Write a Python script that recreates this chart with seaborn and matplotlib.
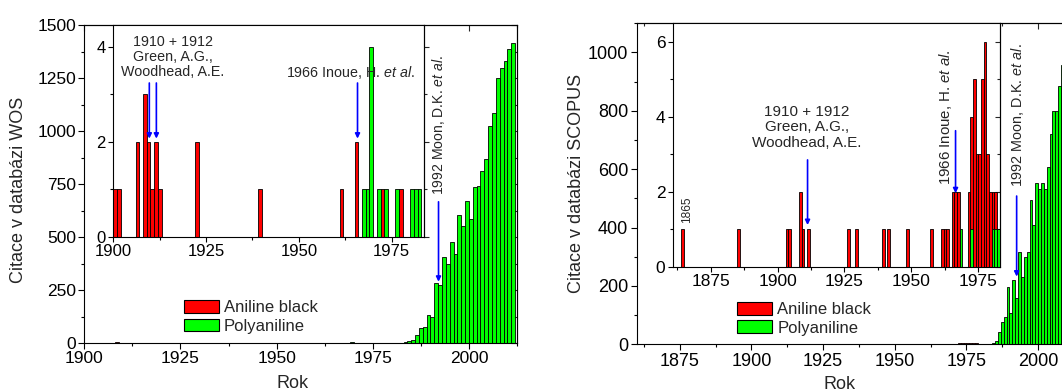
import numpy as np
import pandas as pd
import matplotlib
matplotlib.use("Agg")
import matplotlib.pyplot as plt
import seaborn as sns
from matplotlib.ticker import MultipleLocator
from matplotlib.patches import Patch

# WOS (levy graf) - roky = levy okraj sloupce
wos_ab_years = [1900, 1901, 1906, 1908, 1909, 1910, 1911, 1912, 1922, 1939, 1961, 1965, 1972, 1977]
wos_ab_counts = [1, 1, 2, 3, 2, 1, 2, 1, 2, 1, 1, 2, 1, 1]
wos_pani_years = [1967, 1968, 1969, 1971, 1973, 1976, 1980, 1981, 1982, 1983, 1984, 1985, 1986,
                  1987, 1988, 1989, 1990, 1991, 1992, 1993, 1994, 1995, 1996, 1997, 1998, 1999,
                  2000, 2001, 2002, 2003, 2004, 2005, 2006, 2007, 2008, 2009, 2010, 2011]
wos_pani_counts = [1, 1, 4, 1, 1, 1, 1, 1, 1, 5, 11, 15, 38,
                   71, 77, 132, 122, 282, 272, 404, 371, 478, 418, 604, 552, 671,
                   583, 737, 740, 813, 868, 1025, 1086, 1251, 1296, 1332, 1388, 1413]

# SCOPUS (pravy graf)
sc_ab_years = [1864, 1885, 1903, 1904, 1908, 1909, 1911, 1926, 1929, 1939, 1941, 1948, 1957,
               1961, 1962, 1963, 1965, 1966, 1967, 1971, 1972, 1973, 1974, 1975, 1976, 1977,
               1978, 1979, 1980, 1981]
sc_ab_counts = [1, 1, 1, 1, 2, 1, 1, 1, 1, 1, 1, 1, 1,
                1, 1, 1, 2, 2, 2, 2, 4, 5, 3, 3, 5, 6,
                3, 2, 2, 2]
sc_pani_years = [1968, 1972, 1980, 1981, 1982, 1983, 1984, 1985, 1986, 1987, 1988, 1989, 1990,
                 1991, 1992, 1993, 1994, 1995, 1996, 1997, 1998, 1999, 2000, 2001, 2002, 2003,
                 2004, 2005, 2006, 2007, 2008]
sc_pani_counts = [1, 1, 1, 1, 1, 2, 5, 10, 43, 77, 95, 197, 106,
                  222, 157, 317, 232, 300, 315, 494, 408, 553, 532, 553, 532, 608,
                  722, 800, 800, 885, 957]

INSET_LAST = 1982  # vlozene grafy konci rokem 1982

RED = "#ff0000"
GREEN = "#00ff00"
BLUE = "#0000ff"

sns.set_style("ticks")
plt.rcParams["font.family"] = ["Liberation Sans", "DejaVu Sans"]
plt.rcParams["mathtext.fontset"] = "custom"
plt.rcParams["mathtext.rm"] = "Liberation Sans"
plt.rcParams["mathtext.it"] = "Liberation Sans:italic"
plt.rcParams["axes.linewidth"] = 0.8
plt.rcParams["axes.edgecolor"] = "black"

edges = list(range(1860, 2014))


def bars(ax, years, counts, color, last=2100):
    df = pd.DataFrame({"rok": years, "n": counts})
    df = df[df["rok"] <= last]
    sns.histplot(data=df, x="rok", weights="n", bins=edges, color=color,
                 edgecolor="black", linewidth=0.6, alpha=1, ax=ax)


def ticks(ax, xmaj, ymaj, size, right_in, mlen=4.5):
    ax.xaxis.set_major_locator(MultipleLocator(xmaj))
    ax.xaxis.set_minor_locator(MultipleLocator(xmaj / 2))
    ax.yaxis.set_major_locator(MultipleLocator(ymaj))
    ax.yaxis.set_minor_locator(MultipleLocator(ymaj / 2))
    ax.tick_params(which="both", direction="out", labelsize=size, width=0.8,
                   colors="black", top=False, right=False, pad=1.5)
    ax.tick_params(which="major", length=mlen)
    ax.tick_params(which="minor", length=mlen * 0.55)
    r = ax.secondary_yaxis("right")
    r.yaxis.set_major_locator(MultipleLocator(ymaj))
    r.yaxis.set_minor_locator(MultipleLocator(ymaj / 2))
    r.tick_params(which="both", direction="in" if right_in else "out",
                  labelright=False, width=0.8)
    r.tick_params(which="major", length=mlen)
    r.tick_params(which="minor", length=mlen * 0.55)
    ax.set_xlabel("")
    ax.set_ylabel("")


def top_in(ax, xmaj):
    t = ax.secondary_xaxis("top")
    t.xaxis.set_major_locator(MultipleLocator(xmaj))
    t.xaxis.set_minor_locator(MultipleLocator(xmaj / 2))
    t.tick_params(which="both", direction="in", labeltop=False, width=0.8)
    t.tick_params(which="major", length=4.5)
    t.tick_params(which="minor", length=2.5)


def arrow(ax, x, y0, y1):
    ax.annotate("", xy=(x, y1), xytext=(x, y0),
                arrowprops=dict(arrowstyle="-|>", color=BLUE, lw=1.2,
                                mutation_scale=7, shrinkA=0, shrinkB=0))


def legend(ax, x, y):
    h = [Patch(facecolor=RED, edgecolor="black", linewidth=0.8, label="Aniline black"),
         Patch(facecolor=GREEN, edgecolor="black", linewidth=0.8, label="Polyaniline")]
    ax.legend(handles=h, loc="upper left", bbox_to_anchor=(x, y), frameon=False,
              fontsize=12, handlelength=2.1, handleheight=0.8, handletextpad=0.3,
              labelspacing=0.2, borderaxespad=0, borderpad=0)


fig = plt.figure(figsize=(10.62, 3.92), dpi=100)

# ---- levy: WOS ----
ax = fig.add_axes([0.0794, 0.125, 0.4074, 0.8112])
bars(ax, wos_ab_years, wos_ab_counts, RED)
bars(ax, wos_pani_years, wos_pani_counts, GREEN)
ax.set_xlim(1900, 2012.5)
ax.set_ylim(0, 1500)
ticks(ax, 25, 250, 12.5, True)
top_in(ax, 25)
ax.set_xlabel("Rok", fontsize=13)
ax.set_ylabel("Citace v databázi WOS", fontsize=13)
ax.xaxis.set_label_coords(0.482, -0.102)
ax.yaxis.set_label_coords(-0.132, 0.48)
legend(ax, 0.2304, 0.135)
arrow(ax, 1992.1, 666, 289)
ax.text(1992.1, 700, "1992 Moon, D.K. $\\mathit{et\\ al.}$", rotation=90,
        ha="center", va="bottom", fontsize=10.1)

ins = fig.add_axes([0.1067, 0.3954, 0.2925, 0.5408])
ins.set_facecolor("white")
bars(ins, wos_ab_years, wos_ab_counts, RED, INSET_LAST)
bars(ins, wos_pani_years, wos_pani_counts, GREEN, INSET_LAST)
ins.set_xlim(1900, 1983.7)
ins.set_ylim(0, 4.46)
ticks(ins, 25, 2, 12, False, mlen=3.8)
ins.text(1916.0, 3.78, "1910 + 1912\nGreen, A.G.,\nWoodhead, A.E.", ha="center",
         va="center", fontsize=10.3, linespacing=1.1)
arrow(ins, 1909.7, 3.24, 2.07)
arrow(ins, 1911.6, 3.24, 2.07)
ins.text(1963.9, 3.47, "1966 Inoue, H. $\\mathit{et\\ al.}$", ha="center", va="center",
         fontsize=10.3)
arrow(ins, 1965.8, 3.24, 2.07)

# ---- pravy: SCOPUS ----
ax2 = fig.add_axes([0.5995, 0.1217, 0.4118, 0.8189])
bars(ax2, sc_ab_years, sc_ab_counts, RED)
bars(ax2, sc_pani_years, sc_pani_counts, GREEN)
ax2.set_xlim(1860, 2012.5)
ax2.set_ylim(0, 1100)
ticks(ax2, 25, 200, 13, True)
top_in(ax2, 25)
ax2.set_xlabel("Rok", fontsize=13)
ax2.set_ylabel("Citace v databázi SCOPUS", fontsize=13)
ax2.xaxis.set_label_coords(0.465, -0.098)
ax2.yaxis.set_label_coords(-0.118, 0.5)
legend(ax2, 0.230, 0.132)
arrow(ax2, 1992.5, 508, 232)
ax2.text(1992.95, 540, "1992 Moon, D.K. $\\mathit{et\\ al.}$", rotation=90,
         ha="center", va="bottom", fontsize=10.4)

ins2 = fig.add_axes([0.6334, 0.3199, 0.3082, 0.6207])
ins2.set_facecolor("white")
bars(ins2, sc_ab_years, sc_ab_counts, RED, INSET_LAST)
bars(ins2, sc_pani_years, sc_pani_counts, GREEN, INSET_LAST)
ins2.set_xlim(1860.8, 1983.1)
ins2.set_ylim(0, 6.5)
ticks(ins2, 25, 2, 12.5, True, mlen=3.8)
ins2.text(1866.0, 1.51, "1865", rotation=90, ha="center", va="center", fontsize=8.6)
ins2.text(1910.9, 3.72, "1910 + 1912\nGreen, A.G.,\nWoodhead, A.E.", ha="center",
          va="center", fontsize=11, linespacing=1.15)
arrow(ins2, 1911.2, 2.85, 1.11)
ins2.text(1962.7, 2.18, "1966 Inoue, H. $\\mathit{et\\ al.}$", rotation=90,
          ha="center", va="bottom", fontsize=10.8)
arrow(ins2, 1966.5, 3.63, 1.96)

fig.savefig("out.png", dpi=100)
